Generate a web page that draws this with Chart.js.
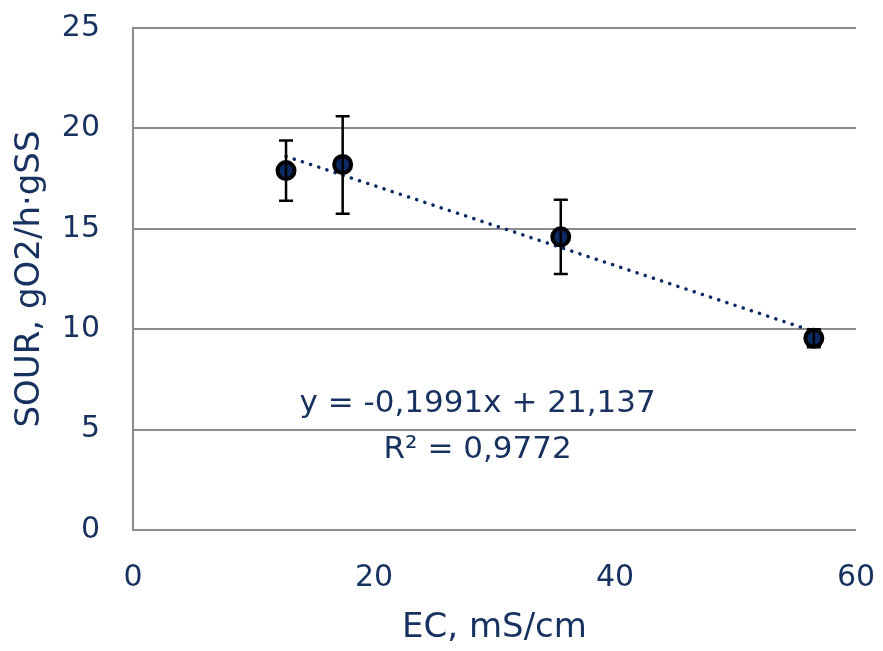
<!DOCTYPE html>
<html>
<head>
<meta charset="utf-8">
<script src="https://cdn.jsdelivr.net/npm/chart.js@4"></script>
<style>
  html, body { margin: 0; padding: 0; background: #fff; }
  #wrap { width: 883px; height: 651px; }
</style>
</head>
<body>
<div id="wrap"><canvas id="chart" width="883" height="651"></canvas></div>
<script>
// Datos
const ecValues   = [12.7, 17.4, 35.5, 56.5];
const sourValues = [17.9, 18.2, 14.6, 9.55];
const errUpper   = [19.4, 20.6, 16.45, 10.0];
const errLower   = [16.4, 15.75, 12.75, 9.1];
const trendSlope = -0.1991;
const trendIntercept = 21.137;
const equationLines = ["y = -0,1991x + 21,137", "R² = 0,9772"];

const navy = "#0B2A63";
const textColor = "#17325F";
const gridColor = "#8C8C8C";
const fontFamily = "'DejaVu Sans', sans-serif";

const points = ecValues.map((x, i) => ({ x, y: sourValues[i] }));
const xMin = Math.min(...ecValues), xMax = Math.max(...ecValues);
const trend = [xMin, xMax].map(x => ({ x, y: trendSlope * x + trendIntercept }));

// Barras de error
const errorBars = {
    id: "errorBars",
    afterDatasetsDraw(chart) {
        const { ctx, scales: { x, y } } = chart;
        ctx.save();
        ctx.strokeStyle = "#000";
        ctx.lineWidth = 2.5;
        ecValues.forEach((v, i) => {
            const px = x.getPixelForValue(v);
            const top = y.getPixelForValue(errUpper[i]);
            const bot = y.getPixelForValue(errLower[i]);
            ctx.beginPath();
            ctx.moveTo(px, top); ctx.lineTo(px, bot);
            ctx.moveTo(px - 7, top); ctx.lineTo(px + 7, top);
            ctx.moveTo(px - 7, bot); ctx.lineTo(px + 7, bot);
            ctx.stroke();
        });
        ctx.restore();
    }
};

// Ecuación de la tendencia
const equationLabel = {
    id: "equationLabel",
    afterDraw(chart) {
        const { ctx, scales: { x, y } } = chart;
        ctx.save();
        ctx.fillStyle = textColor;
        ctx.font = "31px " + fontFamily;
        ctx.textAlign = "center";
        ctx.textBaseline = "middle";
        const cx = x.getPixelForValue(28.6);
        ctx.fillText(equationLines[0], cx, y.getPixelForValue(6.26));
        ctx.fillText(equationLines[1], cx, y.getPixelForValue(3.98));
        ctx.restore();
    }
};

new Chart(document.getElementById("chart"), {
    type: "scatter",
    data: {
        datasets: [
            {
                label: "Tendencia",
                data: trend,
                type: "line",
                showLine: true,
                borderColor: navy,
                borderWidth: 3.5,
                borderDash: [0.1, 8.5],
                borderCapStyle: "round",
                pointRadius: 0,
                fill: false,
                order: 2
            },
            {
                label: "SOUR",
                data: points,
                backgroundColor: navy,
                borderColor: "#000",
                borderWidth: 4,
                pointRadius: 8.5,
                pointHoverRadius: 8.5,
                order: 1
            }
        ]
    },
    options: {
        responsive: false,
        animation: false,
        layout: { padding: { top: 28, right: 27, left: 0, bottom: 0 } },
        plugins: {
            legend: { display: false },
            tooltip: { enabled: false }
        },
        scales: {
            x: {
                type: "linear",
                min: 0, max: 60,
                ticks: { stepSize: 20, color: textColor, font: { family: fontFamily, size: 30 }, padding: 30 },
                grid: { display: false, drawTicks: false },
                border: { display: false },
                title: { display: true, text: "EC, mS/cm", color: textColor, font: { family: fontFamily, size: 34 }, padding: { top: 0, bottom: 2 } },
                afterFit(s) { s.height = 121; s.paddingLeft = 0; s.paddingRight = 0; }
            },
            y: {
                min: 0, max: 25,
                ticks: { stepSize: 5, color: textColor, font: { family: fontFamily, size: 30 }, padding: 33 },
                grid: { color: gridColor, lineWidth: 2, drawTicks: false },
                border: { display: true, color: gridColor, width: 2 },
                title: { display: true, text: "SOUR, gO2/h·gSS", color: textColor, font: { family: fontFamily, size: 34 }, padding: { top: 10, bottom: 0 } },
                afterFit(s) { s.width = 133; s.paddingTop = 0; s.paddingBottom = 0; }
            }
        }
    },
    plugins: [errorBars, equationLabel]
});
</script>
</body>
</html>
